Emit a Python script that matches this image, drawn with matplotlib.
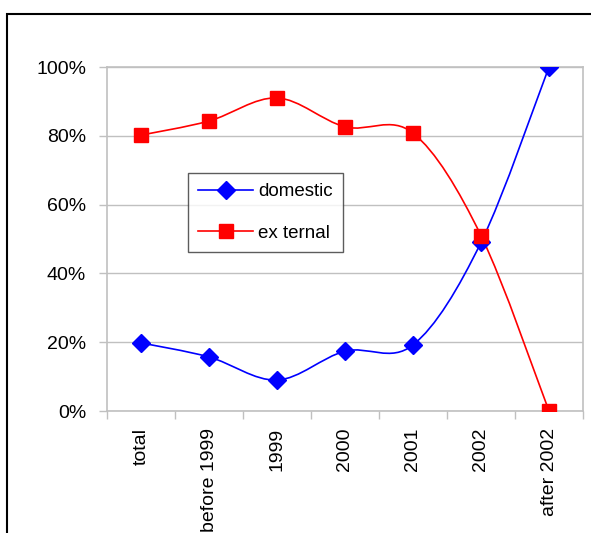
import numpy as np
import matplotlib
matplotlib.use("Agg")
import matplotlib.pyplot as plt
from matplotlib.patches import Rectangle
from matplotlib.path import Path
from matplotlib.patches import PathPatch

plt.rcParams["font.family"] = ["Liberation Sans", "DejaVu Sans"]

categories = ["total", "before 1999", "1999", "2000", "2001", "2002", "after 2002"]
domestic = [0.198, 0.157, 0.090, 0.174, 0.192, 0.490, 1.000]
external = [0.802, 0.843, 0.910, 0.826, 0.808, 0.510, 0.000]


def smooth_path(x, y):
    # Bezier segments through the points, like Excel's smoothed line
    pts = np.column_stack([x, y])
    n = len(pts)
    verts = [pts[0]]
    codes = [Path.MOVETO]
    for i in range(n - 1):
        p0 = pts[max(i - 1, 0)]
        p1 = pts[i]
        p2 = pts[i + 1]
        p3 = pts[min(i + 2, n - 1)]
        c1 = p1 + (p2 - p0) / 6.0
        c2 = p2 - (p3 - p1) / 6.0
        verts += [c1, c2, p2]
        codes += [Path.CURVE4] * 3
    return Path(verts, codes)


fig = plt.figure(figsize=(5.91, 5.33), dpi=100)
ax = fig.add_axes([107 / 591, 1 - 411 / 533, 476 / 591, 344 / 533])

x = np.arange(len(categories))
grey = "#C0C0C0"

for vals, color, marker, ms, label in [
    (domestic, "#0000FF", "D", 9, "domestic"),
    (external, "#FF0000", "s", 10, "ex ternal"),
]:
    ax.add_patch(PathPatch(smooth_path(x, vals), facecolor="none",
                           edgecolor=color, lw=1.2, zorder=3))
    ax.plot(x, vals, ls="none", marker=marker, ms=ms, color=color, zorder=4)
    # proxy handle for the legend
    ax.plot([], [], color=color, lw=1.2, marker=marker, ms=ms, label=label)

ax.set_xlim(-0.5, len(categories) - 0.5)
ax.set_ylim(0, 1)

ax.set_yticks(np.arange(0, 1.01, 0.2))
ax.set_yticklabels([f"{int(round(v * 100))}%" for v in np.arange(0, 1.01, 0.2)])
ax.yaxis.grid(True, color=grey, lw=1)
ax.set_axisbelow(True)

ax.set_xticks(np.arange(-0.5, len(categories), 1.0))
ax.set_xticklabels([])
ax.set_xticks(x, minor=True)
ax.set_xticklabels(categories, minor=True, rotation=90, va="top", ha="center")

ax.tick_params(axis="y", length=6, color=grey, width=1, pad=9, labelsize=14)
ax.tick_params(axis="x", which="major", length=6, color=grey, width=1)
ax.tick_params(axis="x", which="minor", length=0, pad=12, labelsize=14)

for s in ax.spines.values():
    s.set_color(grey)
    s.set_linewidth(1.2)

leg = ax.legend(loc="upper left", bbox_to_anchor=((188 - 107) / 476, (411 - 173) / 344),
                fontsize=13.5, frameon=True, fancybox=False, borderaxespad=0,
                handlelength=2.9, handletextpad=0.3, labelspacing=1.3,
                borderpad=0.55)
leg.get_frame().set_edgecolor("#333333")
leg.get_frame().set_linewidth(1)

# outer chart-area border
fig.patches.append(Rectangle((7 / 591, -0.05), 1.1, 1 - 14 / 533 + 0.05,
                             transform=fig.transFigure, fill=False,
                             edgecolor="black", lw=1.5))

fig.savefig("out.png", dpi=100)
